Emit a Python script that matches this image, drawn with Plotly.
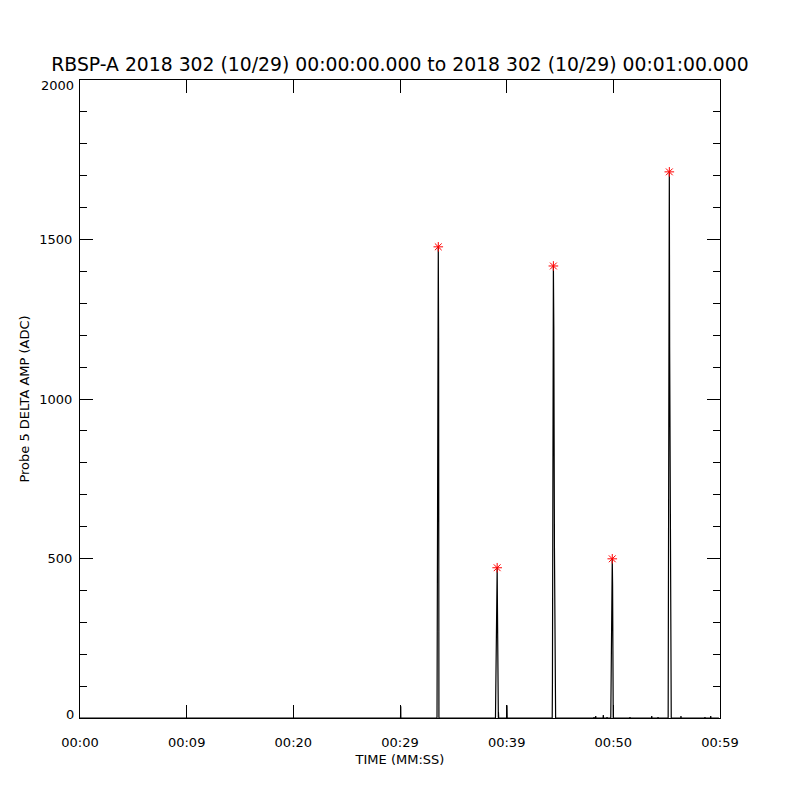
import plotly.graph_objects as go

# ---- data (time in seconds from 00:00:00, amplitude in ADC) ----
BASE_T = [0.0]
BASE_V = [0]

BUMP0_T = [30.05, 30.07, 30.08]
BUMP0_V = [0, 37, 0]

SPIKE1_T = [33.47, 33.50, 33.59, 33.62, 33.65]
SPIKE1_V = [0, 863, 1477, 1192, 0]

SPIKE2_T = [38.95, 38.98, 39.11, 39.13, 39.15, 39.22, 39.23, 39.25]
SPIKE2_V = [0, 133, 471, 368, 0, 0, 18, 0]

BUMP1_T = [40.01, 40.03, 40.05]
BUMP1_V = [0, 40, 0]

SPIKE3_T = [44.27, 44.29, 44.38, 44.42, 44.48, 44.59]
SPIKE3_V = [0, 105, 1417, 1227, 528, 0]

NOISE1_T = [48.17, 48.19, 48.21, 48.33, 48.35, 48.37, 49.04, 49.06, 49.08, 49.39, 49.41, 49.43]
NOISE1_V = [0, 3, 0, 0, 6, 0, 0, 9, 0, 0, 3, 0]

SPIKE4_T = [49.76, 49.81, 49.90, 49.93, 49.99]
SPIKE4_V = [0, 272, 499, 418, 0]

NOISE2_T = [51.54, 51.56, 51.58, 53.58, 53.60, 53.62, 54.17, 54.19, 54.21]
NOISE2_V = [0, 3, 0, 0, 6, 0, 0, 3, 0]

SPIKE5_T = [55.14, 55.16, 55.25, 55.28, 55.37, 55.43]
SPIKE5_V = [0, 431, 1712, 1165, 366, 0]

NOISE3_T = [56.32, 56.34, 56.36, 58.57, 58.59, 58.61, 59.11, 59.13, 59.15, 59.9]
NOISE3_V = [0, 6, 0, 0, 3, 0, 0, 6, 0, 0]

PEAK_T = [33.59, 39.11, 44.38, 49.90, 55.25]
PEAK_V = [1477, 471, 1417, 499, 1712]

X_TICKS = [0, 10, 20, 30, 40, 50, 60]
X_TICK_LABELS = ["00:00", "00:09", "00:20", "00:29", "00:39", "00:50", "00:59"]

Y_TICKS = [0, 500, 1000, 1500, 2000]
Y_TICK_LABELS = ["0", "500", "1000", "1500", "2000"]

TITLE = "RBSP-A 2018 302 (10/29) 00:00:00.000 to 2018 302 (10/29) 00:01:00.000"

segments_t = [BASE_T, BUMP0_T, SPIKE1_T, SPIKE2_T, BUMP1_T, SPIKE3_T, NOISE1_T,
              SPIKE4_T, NOISE2_T, SPIKE5_T, NOISE3_T]
segments_v = [BASE_V, BUMP0_V, SPIKE1_V, SPIKE2_V, BUMP1_V, SPIKE3_V, NOISE1_V,
              SPIKE4_V, NOISE2_V, SPIKE5_V, NOISE3_V]
t_all = [t for seg in segments_t for t in seg]
v_all = [v for seg in segments_v for v in seg]

FONT = "DejaVu Sans"

fig = go.Figure()
fig.add_trace(go.Scatter(x=t_all, y=v_all, mode="lines",
                         line=dict(color="black", width=1.2), showlegend=False,
                         hoverinfo="skip"))
fig.add_trace(go.Scatter(x=PEAK_T, y=PEAK_V, mode="markers",
                         marker=dict(symbol="asterisk", size=8, color="red",
                                     line=dict(color="red", width=1)),
                         showlegend=False))

# end labels of the y axis sit slightly inside the range, as in the original
inner_ticktext = [lab if 0 < i < len(Y_TICKS) - 1 else "" for i, lab in enumerate(Y_TICK_LABELS)]
end_shift = {0: 4, len(Y_TICKS) - 1: -5}
for i, shift in end_shift.items():
    fig.add_annotation(x=0, xref="paper", xanchor="right", xshift=-5,
                       y=Y_TICKS[i], yref="y", yanchor="middle", yshift=shift,
                       text=Y_TICK_LABELS[i], showarrow=False, borderpad=0,
                       font=dict(family=FONT, size=13, color="black"))

fig.update_layout(
    width=800, height=800,
    paper_bgcolor="white", plot_bgcolor="white",
    margin=dict(l=72, r=88, t=72, b=90, autoexpand=False),
    font=dict(family=FONT, size=13, color="black"),
    title=dict(text=TITLE, x=0.5 - 8 / 800, xanchor="center", y=1 - 56 / 800,
               yanchor="middle", yref="container",
               font=dict(family=FONT, size=18.8, color="black")),
)
fig.update_xaxes(
    range=[0, 60], tickmode="array", tickvals=X_TICKS, ticktext=X_TICK_LABELS,
    showline=True, linecolor="black", linewidth=1, mirror="ticks",
    ticks="inside", ticklen=13, tickcolor="black", tickwidth=1,
    showgrid=False, zeroline=False, ticklabelstandoff=12,
    title=dict(text="TIME (MM:SS)", standoff=6, font=dict(family=FONT, size=13)),
)
fig.update_yaxes(
    range=[0, 2000], tickmode="array", tickvals=Y_TICKS, ticktext=inner_ticktext,
    showline=True, linecolor="black", linewidth=1, mirror="ticks",
    ticks="inside", ticklen=13, tickcolor="black", tickwidth=1,
    minor=dict(dtick=100, tick0=0, ticks="inside", ticklen=7, tickcolor="black", showgrid=False),
    showgrid=False, zeroline=False, ticklabelstandoff=4,
    title=dict(text="Probe 5 DELTA AMP (ADC)", standoff=6, font=dict(family=FONT, size=13)),
)

fig.write_html("out.html")
